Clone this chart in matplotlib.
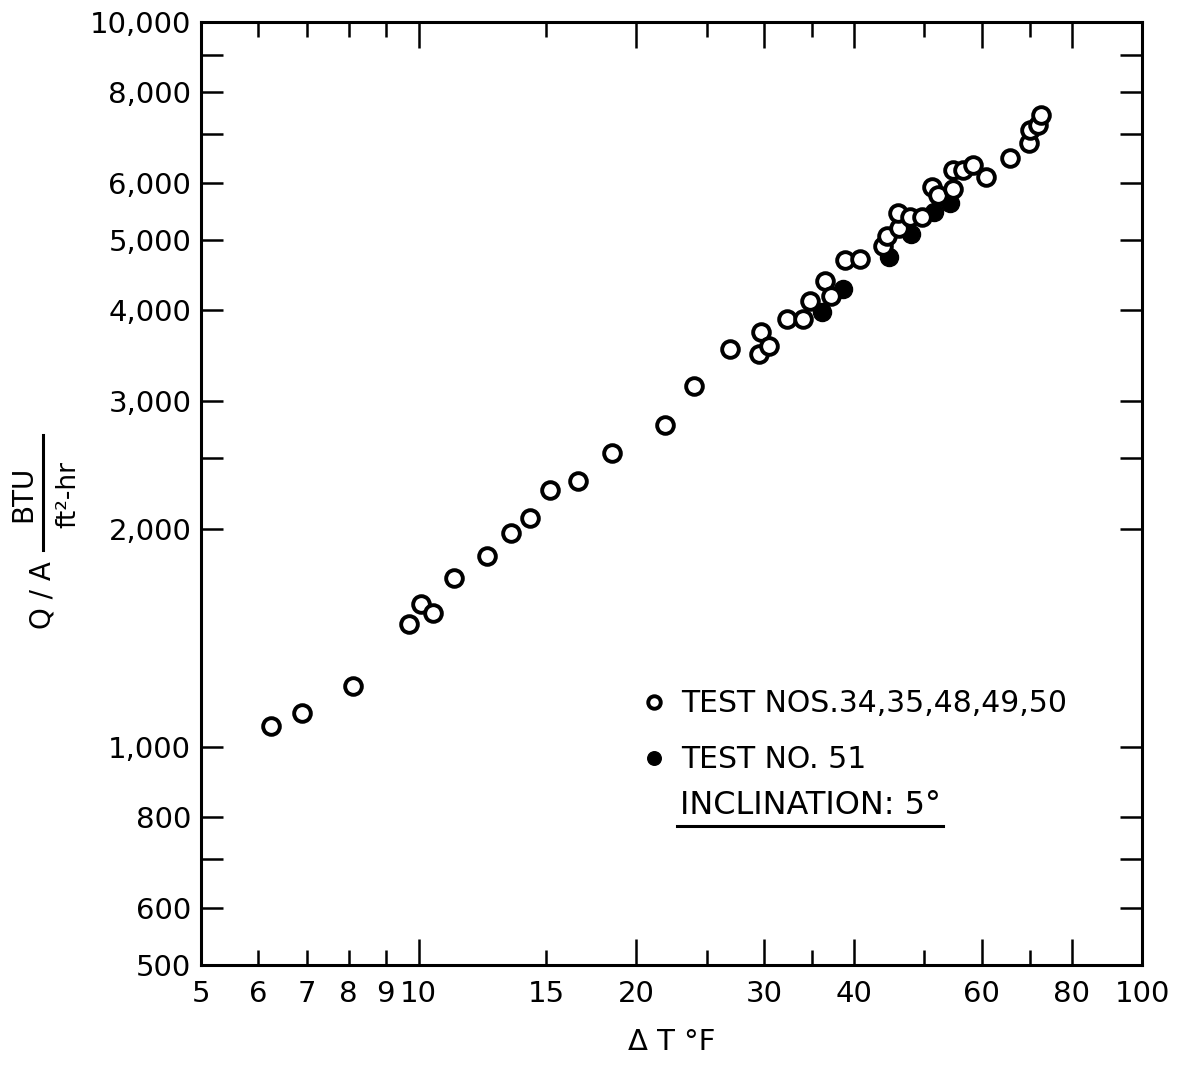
import numpy as np
import matplotlib.pyplot as plt
from matplotlib.lines import Line2D
from matplotlib.ticker import FixedLocator, FixedFormatter

# readings taken off the original graph (delta T in F, Q/A in BTU/ft2-hr)
open_dt = [6.25, 6.90, 8.11, 9.70, 10.08, 10.47, 11.2, 12.43, 13.42, 14.26,
           15.2, 16.6, 18.5, 21.9, 24.0, 26.97, 29.5, 29.7, 30.5, 32.3,
           34.0, 34.8, 36.5, 37.2, 38.9, 40.7, 43.9, 44.4, 46.2, 46.0,
           47.8, 49.7, 51.3, 52.3, 54.8, 54.8, 56.6, 58.3, 60.9, 65.6,
           69.7, 70.1, 71.7, 72.6]
open_q = [1069, 1114, 1213, 1478, 1574, 1530, 1710, 1834, 1973, 2069,
          2262, 2328, 2544, 2781, 3147, 3540, 3485, 3736, 3574, 3894,
          3894, 4123, 4393, 4190, 4695, 4710, 4909, 5069, 5200, 5453,
          5383, 5383, 5920, 5772, 5884, 6251, 6251, 6351, 6114, 6493,
          6810, 7096, 7210, 7442]

solid_dt = [36.1, 38.6, 44.7, 48.0, 51.5, 54.2]
solid_q = [3981, 4283, 4741, 5102, 5470, 5628]

x_major = [5, 10, 20, 30, 40, 60, 80, 100]
x_minor = [6, 7, 8, 9, 15, 25, 35, 50, 70]
x_minor_labels = ["6", "7", "8", "9", "15", "", "", "", ""]
y_ticks = [500, 600, 700, 800, 1000, 2000, 2500, 3000, 4000, 5000, 6000,
           7000, 8000, 9000, 10000]
y_labels = ["500", "600", "", "800", "1,000", "2,000", "", "3,000", "4,000",
            "5,000", "6,000", "", "8,000", "", "10,000"]

W, H = 1182, 1066
fig = plt.figure(figsize=(W / 100, H / 100), dpi=100)
ax = fig.add_axes([201 / W, 1 - 965 / H, 941 / W, 943 / H])


def fx(px):
    return px / W


def fy(py):
    return 1 - py / H


ax.set_xscale("log")
ax.set_yscale("log")
ax.set_xlim(5, 100)
ax.set_ylim(500, 10000)

# filled first, open circles (white face) sit on top like the original
sol, = ax.plot(solid_dt, solid_q, "o", ms=13, color="black", zorder=3,
               label="TEST NO. 51")
opn, = ax.plot(open_dt, open_q, "o", ms=12, mfc="white", mec="black", mew=2.8,
               zorder=4, label="TEST NOS.34,35,48,49,50")

# ticks
ax.xaxis.set_major_locator(FixedLocator(x_major))
ax.xaxis.set_major_formatter(FixedFormatter([str(v) for v in x_major]))
ax.xaxis.set_minor_locator(FixedLocator(x_minor))
ax.xaxis.set_minor_formatter(FixedFormatter(x_minor_labels))
ax.yaxis.set_major_locator(FixedLocator(y_ticks))
ax.yaxis.set_major_formatter(FixedFormatter(y_labels))
ax.yaxis.set_minor_locator(FixedLocator([]))

ax.tick_params(axis="x", which="major", direction="in", top=True, bottom=True,
               length=19, width=1.8, labelsize=21, pad=11)
ax.tick_params(axis="x", which="minor", direction="in", top=True, bottom=True,
               length=11, width=1.8, labelsize=21, pad=11)
ax.tick_params(axis="y", which="major", direction="in", left=True, right=True,
               length=16, width=1.8, labelsize=21, pad=7)
for s in ax.spines.values():
    s.set_linewidth(2.2)

# axis titles
fig.text(fx(672), fy(1042), "Δ T °F", ha="center", va="center", fontsize=21)
fig.text(fx(43), fy(595), "Q / A", ha="center", va="center", fontsize=20, rotation=90)
fig.text(fx(23), fy(494), "BTU", ha="center", va="center", fontsize=20, rotation=90)
fig.text(fx(68), fy(494), "ft²-hr", ha="center", va="center", fontsize=19, rotation=90)
fig.add_artist(Line2D([fx(43), fx(43)], [fy(435), fy(550)], color="black", lw=2.2))

# key
leg = ax.legend(handles=[opn, sol], loc="upper left",
                bbox_to_anchor=(fx(645), fy(689)), bbox_transform=fig.transFigure,
                frameon=False, fontsize=21.5, markerscale=0.75, handlelength=0.6,
                handletextpad=0.6, labelspacing=0.92, borderpad=0, borderaxespad=0)
fig.text(fx(680), fy(805), "INCLINATION: 5°", ha="left", va="center", fontsize=23)
fig.add_artist(Line2D([fx(677), fx(943)], [fy(826), fy(826)], color="black", lw=2.2))

fig.savefig("out.png", dpi=100)
